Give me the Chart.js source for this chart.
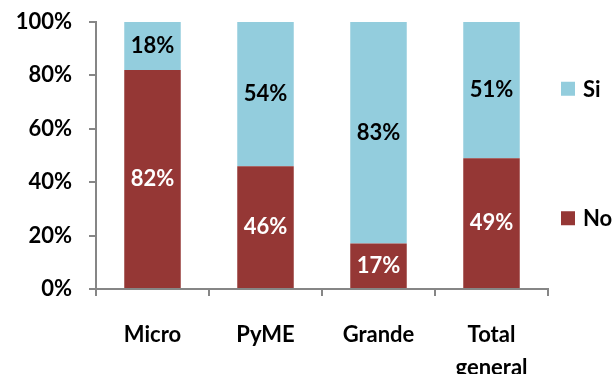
<!DOCTYPE html>
<html>
<head>
<meta charset="utf-8">
<script src="https://cdn.jsdelivr.net/npm/chart.js@4"></script>
<style>
  html, body { margin: 0; padding: 0; background: #fff; }
  #wrap { width: 614px; height: 374px; }
</style>
</head>
<body>
<div id="wrap"><canvas id="grafico"></canvas></div>
<script>
const categorias = ["Micro", "PyME", "Grande", ["Total", "general"]];
const valoresNo = [82, 46, 17, 49];
const valoresSi = [18, 54, 83, 51];
const ticksY = [0, 20, 40, 60, 80, 100];

const rojo = "#953735";
const celeste = "#93CDDD";
const gris = "#868686";
const fuente = "Lato, 'Open Sans', sans-serif";

// Etiquetas de porcentaje en el centro de cada segmento
const etiquetasPlugin = {
  id: "etiquetas",
  afterDatasetsDraw(chart) {
    const ctx = chart.ctx;
    ctx.save();
    ctx.font = "bold 22px " + fuente;
    ctx.textAlign = "center";
    ctx.textBaseline = "middle";
    chart.data.datasets.forEach((ds, i) => {
      const meta = chart.getDatasetMeta(i);
      meta.data.forEach((bar, j) => {
        const yc = (bar.y + bar.base) / 2;
        ctx.fillStyle = ds.colorEtiqueta;
        ctx.fillText(ds.data[j] + "%", bar.x, yc);
      });
    });
    ctx.restore();
  },
};

// Leyenda a la derecha, Si arriba y No abajo
const leyendaPlugin = {
  id: "leyenda",
  afterDraw(chart) {
    const ctx = chart.ctx;
    const area = chart.chartArea;
    const y = chart.scales.y;
    const items = [
      { texto: "Si", color: celeste, pos: y.getPixelForValue(75) },
      { texto: "No", color: rojo, pos: y.getPixelForValue(26.5) },
    ];
    ctx.save();
    ctx.font = "bold 22px " + fuente;
    ctx.textBaseline = "middle";
    ctx.textAlign = "left";
    items.forEach((it) => {
      ctx.fillStyle = it.color;
      ctx.fillRect(area.right + 13, it.pos - 7, 14, 14);
      ctx.fillStyle = "#000";
      ctx.fillText(it.texto, area.right + 35, it.pos + 1);
    });
    ctx.restore();
  },
};

new Chart(document.getElementById("grafico"), {
  type: "bar",
  data: {
    labels: categorias,
    datasets: [
      {
        label: "No",
        data: valoresNo,
        backgroundColor: rojo,
        colorEtiqueta: "#fff",
        barPercentage: 0.5,
        categoryPercentage: 1,
      },
      {
        label: "Si",
        data: valoresSi,
        backgroundColor: celeste,
        colorEtiqueta: "#000",
        barPercentage: 0.5,
        categoryPercentage: 1,
      },
    ],
  },
  options: {
    responsive: true,
    maintainAspectRatio: false,
    animation: false,
    layout: { padding: { top: 22, right: 66, left: 0, bottom: 0 } },
    plugins: {
      legend: { display: false },
      tooltip: { enabled: false },
    },
    scales: {
      x: {
        stacked: true,
        grid: {
          drawOnChartArea: false,
          drawTicks: true,
          tickLength: 7,
          color: gris,
          lineWidth: 2,
        },
        border: { color: gris, width: 2 },
        ticks: {
          color: "#000",
          padding: 22,
          maxRotation: 0,
          font: { family: fuente, size: 22, weight: "bold", lineHeight: 1.5 },
        },
        afterFit(scale) {
          scale.height = 85;
          scale.paddingLeft = 0;
          scale.paddingRight = 0;
        },
      },
      y: {
        stacked: true,
        min: 0,
        max: 100,
        afterBuildTicks(scale) {
          scale.ticks = ticksY.map((v) => ({ value: v }));
        },
        grid: {
          drawOnChartArea: false,
          drawTicks: true,
          tickLength: 7,
          color: gris,
          lineWidth: 2,
        },
        border: { color: gris, width: 2 },
        ticks: {
          color: "#000",
          padding: 17,
          callback: (v) => v + "%",
          font: { family: fuente, size: 22, weight: "bold" },
        },
        afterFit(scale) {
          scale.width = 96;
          scale.paddingTop = 0;
          scale.paddingBottom = 0;
        },
      },
    },
  },
  plugins: [etiquetasPlugin, leyendaPlugin],
});
</script>
</body>
</html>
